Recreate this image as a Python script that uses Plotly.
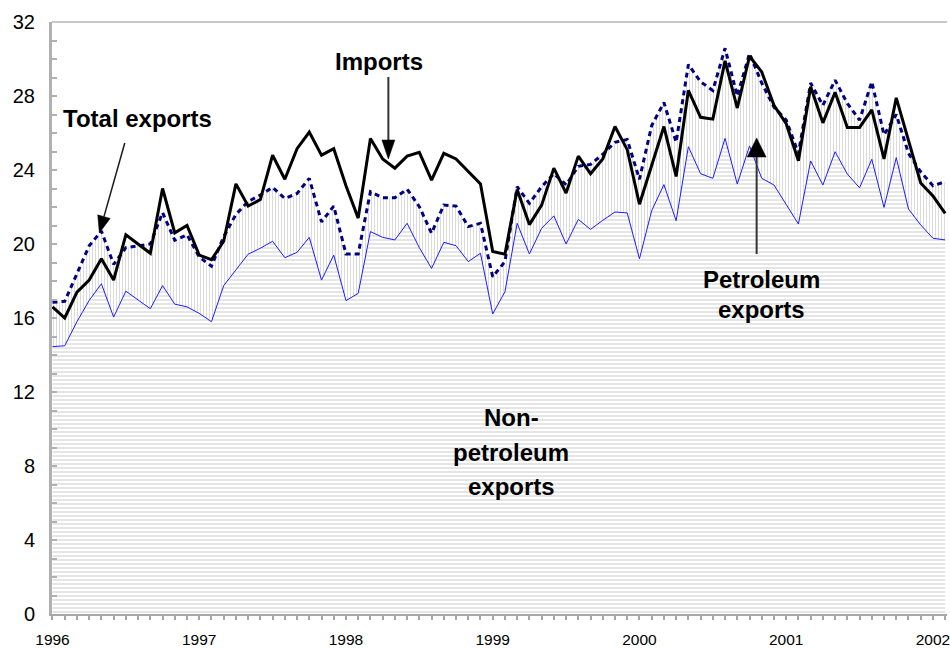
import plotly.graph_objects as go

# ---------------- data (billions of dollars, monthly from Jan 1996) ----------------
years = ["1996", "1997", "1998", "1999", "2000", "2001", "2002"]
year_months = [0, 12, 24, 36, 48, 60, 72]
y_ticks = [0, 4, 8, 12, 16, 20, 24, 28, 32]

imports = [16.6, 16.0, 17.4, 18.05, 19.2, 18.05, 20.5, 20.0, 19.5, 23.0, 20.6, 21.0,
           19.4, 19.15, 20.15, 23.25, 22.05, 22.4, 24.8, 23.5, 25.15, 26.05, 24.8, 25.15,
           23.15, 21.4, 25.7, 24.6, 24.1, 24.75, 24.95, 23.45, 24.9, 24.6, 23.9, 23.25,
           19.6, 19.45, 22.95, 21.05, 22.1, 24.1, 22.75, 24.75, 23.8, 24.6, 26.35, 25.1,
           22.15, 24.25, 26.35, 23.65, 28.3, 26.85, 26.75, 29.9, 27.35, 30.15, 29.3, 27.5,
           26.5, 24.5, 28.5, 26.55, 28.2, 26.3, 26.3, 27.25, 24.6, 27.9, 25.6, 23.3,
           22.6, 21.65]

total_exports = [16.85, 16.9, 18.4, 19.9, 20.7, 18.9, 19.8, 19.9, 20.0, 21.7, 20.2, 20.5,
                 19.3, 18.8, 20.4, 21.6, 22.3, 22.65, 23.06, 22.46, 22.73, 23.55, 21.2, 22.05,
                 19.46, 19.46, 22.83, 22.5, 22.5, 22.96, 22.02, 20.58, 22.11, 22.05, 20.94, 21.12,
                 18.23, 19.05, 23.1, 22.2, 23.1, 23.8, 23.2, 24.2, 24.3, 24.85, 25.5, 25.65,
                 23.5, 26.4, 27.65, 25.5, 29.7, 28.77, 28.3, 30.58, 28.0, 30.3, 28.7, 27.4,
                 26.7, 24.9, 28.7, 27.5, 28.86, 27.6, 26.7, 28.77, 25.9, 27.0, 24.9, 23.9,
                 23.15, 23.37]

nonpetroleum_exports = [14.45, 14.5, 15.8, 16.95, 17.85, 16.05, 17.45, 16.95, 16.5, 17.75, 16.75, 16.6,
                        16.25, 15.8, 17.75, 18.6, 19.45, 19.77, 20.15, 19.26, 19.55, 20.36, 18.05, 19.4,
                        16.94, 17.33, 20.67, 20.36, 20.22, 21.12, 19.8, 18.68, 20.09, 19.91, 19.05, 19.5,
                        16.22, 17.42, 21.12, 19.46, 20.85, 21.52, 20.0, 21.33, 20.79, 21.28, 21.73, 21.68,
                        19.2, 21.8, 23.21, 21.26, 25.26, 23.8, 23.55, 25.71, 23.24, 25.3, 23.55, 23.19,
                        22.1, 21.08, 24.49, 23.19, 24.99, 23.78, 23.04, 24.58, 21.98, 24.67, 21.89, 21.03,
                        20.31, 20.22]

months = list(range(len(imports)))

# ---------------- layout geometry ----------------
W, H = 950, 648
L, R, T, B = 52, 0, 22, 34
PW, PH = W - L - R, H - T - B


def pp(x, y):
    """pixel -> paper coordinates"""
    return (x - L) / PW, (H - B - y) / PH


def arrow_shapes(x0, y0, x1, y1, hl, hw, color="#1a1a1a", width=1.5):
    dx, dy = x1 - x0, y1 - y0
    n = (dx * dx + dy * dy) ** 0.5
    ux, uy = dx / n, dy / n
    bx, by = x1 - hl * ux, y1 - hl * uy
    px_, py_ = -uy, ux
    c1 = (bx + hw / 2 * px_, by + hw / 2 * py_)
    c2 = (bx - hw / 2 * px_, by - hw / 2 * py_)
    a0, b0 = pp(x0, y0)
    a1, b1 = pp(bx, by)
    line = dict(type="line", xref="paper", yref="paper", x0=a0, y0=b0, x1=a1, y1=b1,
                line=dict(color=color, width=width))
    t = pp(x1, y1)
    p1 = pp(*c1)
    p2 = pp(*c2)
    path = f"M {t[0]},{t[1]} L {p1[0]},{p1[1]} L {p2[0]},{p2[1]} Z"
    head = dict(type="path", xref="paper", yref="paper", path=path,
                fillcolor="black", line=dict(color="black", width=0.5))
    return [line, head]


fig = go.Figure()

fig.add_trace(go.Scatter(
    x=months, y=nonpetroleum_exports, mode="lines",
    line=dict(color="#1a1aff", width=1),
    fill="tozeroy",
    fillpattern=dict(shape="-", size=4, solidity=0.45, fgcolor="#c6c6c6", bgcolor="#ffffff"),
    hoverinfo="skip", name="Non-petroleum exports"))

fig.add_trace(go.Scatter(
    x=months, y=total_exports, mode="lines",
    line=dict(color="#000080", width=3, dash="5px,4px"),
    fill="tonexty",
    fillpattern=dict(shape="|", size=3, solidity=0.35, fgcolor="#b8b8b8", bgcolor="#ffffff"),
    hoverinfo="skip", name="Total exports"))

fig.add_trace(go.Scatter(
    x=months, y=imports, mode="lines",
    line=dict(color="#000000", width=3),
    hoverinfo="skip", name="Imports"))

shapes = []
# top border
shapes.append(dict(type="line", xref="paper", yref="paper", x0=0, x1=1, y0=1, y1=1,
                   line=dict(color="#c8c8c8", width=2)))
shapes += arrow_shapes(125, 143, 99.5, 233, 17, 13)
shapes += arrow_shapes(389.5, 77, 389.5, 159, 19, 13, color="#333333", width=2)
shapes += arrow_shapes(759, 254, 759, 138, 19, 19, color="#333333", width=2)

bold = dict(family="Liberation Sans, Arial, Helvetica, sans-serif", size=24, color="black")


def label(text, x, y):
    xp, yp = pp(x, y)
    return dict(text=f"<b>{text}</b>", xref="paper", yref="paper", x=xp, y=yp,
                xanchor="center", yanchor="middle", showarrow=False, font=bold)


annotations = [
    label("Imports", 380, 61),
    label("Total exports", 138, 119),
    label("Petroleum", 764, 279),
    label("exports", 764, 309),
    label("Non-", 513, 417),
    label("petroleum", 513, 452),
    label("exports", 513, 486),
]

fig.update_layout(
    width=W, height=H,
    margin=dict(l=L, r=R, t=T, b=B, pad=0),
    paper_bgcolor="white", plot_bgcolor="white",
    showlegend=False,
    shapes=shapes,
    annotations=annotations,
    font=dict(family="Liberation Sans, Arial, Helvetica, sans-serif", color="black"),
    xaxis=dict(
        range=[-0.04, 73.15],
        tickmode="array", tickvals=year_months, ticktext=years,
        ticks="outside", ticklen=4, tickcolor="#a8a8a8", tickwidth=2,
        showline=True, linecolor="#a8a8a8", linewidth=2,
        showgrid=False, zeroline=False,
        tickfont=dict(size=15.5),
        ticklabelstandoff=6,
        ticklabeloverflow="allow",
        minor=dict(tickmode="linear", tick0=0, dtick=1, ticks="outside", ticklen=4,
                   tickcolor="#a8a8a8", tickwidth=2, showgrid=False),
    ),
    yaxis=dict(
        range=[0, 32],
        tickmode="array", tickvals=y_ticks,
        ticks="inside", ticklen=5, tickcolor="#b0b0b0", tickwidth=2,
        showline=True, linecolor="#b0b0b0", linewidth=3,
        showgrid=False, zeroline=False,
        tickfont=dict(size=20),
        ticklabelstandoff=10,
        minor=dict(tickmode="linear", tick0=0, dtick=1, ticks="inside", ticklen=5,
                   tickcolor="#b0b0b0", tickwidth=2, showgrid=False),
    ),
)

fig.write_html(
    "out.html",
    config={"displayModeBar": False},
    post_script="document.body.style.margin='0px';document.body.style.overflow='hidden';",
)
